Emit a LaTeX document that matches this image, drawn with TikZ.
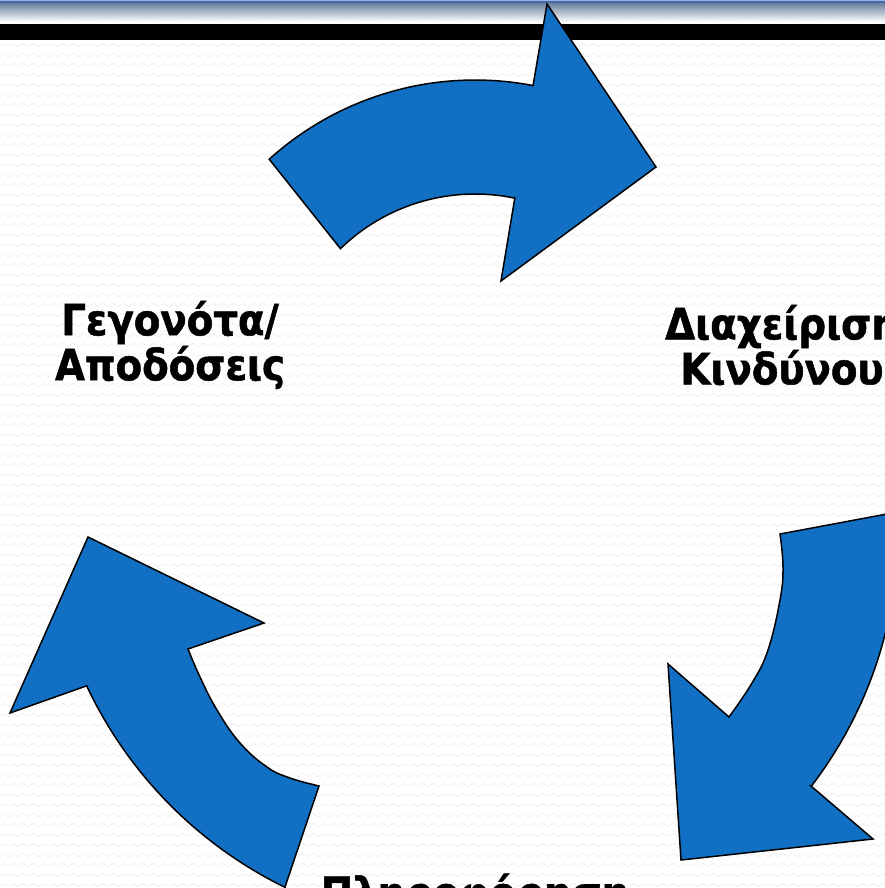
\documentclass[tikz,border=0pt]{standalone}
\usepackage{fontspec}
\setmainfont{DejaVu Sans Condensed}[BoldFeatures={FakeBold=1.2}]
\usetikzlibrary{decorations.pathmorphing}
\definecolor{arrowblue}{RGB}{17,112,196}
\definecolor{bandlight}{RGB}{150,178,228}
\definecolor{bandblue}{RGB}{70,105,170}
\definecolor{bandtop}{RGB}{105,128,158}
\begin{document}
\begin{tikzpicture}[x=1pt,y=-1pt,
  cyclearrow/.style={fill=arrowblue, draw=black, line width=1.5pt, line join=miter},
  captext/.style={font=\fontsize{43}{45}\selectfont\bfseries, align=center, text=black, inner sep=0pt},
  wave/.style={draw=black!6, line width=0.8pt, decorate, decoration={snake, amplitude=1.6pt, segment length=10pt}}]
\useasboundingbox (0,0) rectangle (885,888);
\clip (0,0) rectangle (885,888);
\fill[white] (0,0) rectangle (885,888);
\foreach \r in {5,15,...,895} \draw[wave] (-10,\r) -- (900,\r);
% top band
\shade[top color=bandtop, bottom color=white] (0,3) rectangle (885,22);
\fill[bandblue] (0,1.5) rectangle (885,3.5);
\fill[bandlight] (0,0) rectangle (885,1.5);
\fill[black] (0,24) rectangle (885,40);
% top arrow
\draw[cyclearrow] plot[domain=227.9:280.9, samples=40, variable=\t] ({475+307*cos(\t)},{387+307*sin(\t)})
  -- (547,4) -- (656,167) -- (501,281) -- (515,197)
  -- plot[domain=281.9:225.8, samples=40, variable=\t] ({475+193*cos(\t)},{387+193*sin(\t)}) -- cycle;
% left arrow
\draw[cyclearrow] (88,537) -- (264,623) -- (188,649)
  -- plot[smooth, tension=0.7] coordinates {(188,649) (200,677) (217,710) (240,743) (267,767) (290,778) (319,786)}
  -- (285,887)
  -- plot[domain=116.1:154.8, samples=40, variable=\t] ({473+427*cos(\t)},{504+427*sin(\t)})
  -- (10,713) -- cycle;
% right arrow
\draw[cyclearrow] (897.6,512) -- (780,534)
  -- plot[smooth, tension=0.7] coordinates {(780,534) (783,567) (780,600) (768,650) (752,683) (729,717)}
  -- (668,664) -- (681,860) -- (873,839) -- (811,786)
  -- plot[domain=37.5:-2.5, samples=40, variable=\t] ({479+419*cos(\t)},{531+419*sin(\t)}) -- cycle;
% texts
\node[captext] (events) at (170,345) {Γεγονότα/\\Αποδόσεις};
\node[captext] (risk) at (782,345) {Διαχείριση\\Κινδύνου};
\node[captext, anchor=base] (info) at (475,908) {Πληροφόρηση};
\end{tikzpicture}
\end{document}
